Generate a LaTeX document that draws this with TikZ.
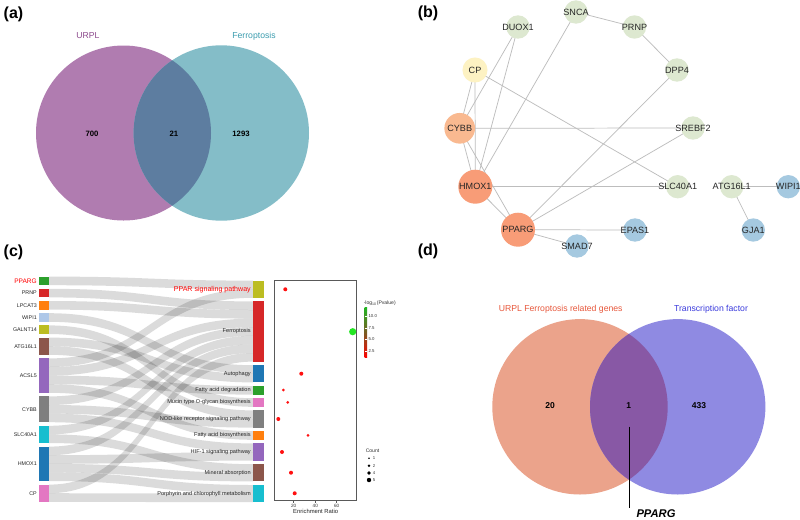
\documentclass[tikz,border=0pt]{standalone}
\usepackage{fontspec}
\setmainfont{Liberation Sans}
\pgfdeclarelayer{bg}
\pgfsetlayers{bg,main}
% colours
\definecolor{vaL}{HTML}{B07CB0}
\definecolor{vaR}{HTML}{84BDC8}
\definecolor{vaM}{HTML}{5D7DA0}
\definecolor{vaLt}{HTML}{8E4C8E}
\definecolor{vaRt}{HTML}{3C9DAF}
\definecolor{vdL}{HTML}{EBA38B}
\definecolor{vdR}{HTML}{8F8AE2}
\definecolor{vdM}{HTML}{8858A5}
\definecolor{vdLt}{HTML}{E8583C}
\definecolor{vdRt}{HTML}{3B3BDD}
\definecolor{ngreen}{HTML}{DDE8D0}
\definecolor{nblue}{HTML}{A5C9E0}
\definecolor{nyellow}{HTML}{FDF2C3}
\definecolor{norange}{HTML}{F9B990}
\definecolor{ndark}{HTML}{F89C77}
\definecolor{nedge}{HTML}{BDBDBD}
\definecolor{kgreen}{HTML}{2CA02C}
\definecolor{kred}{HTML}{D62728}
\definecolor{korange}{HTML}{FF7F0E}
\definecolor{klblue}{HTML}{AEC7E8}
\definecolor{kolive}{HTML}{BCBD22}
\definecolor{kbrown}{HTML}{8C564B}
\definecolor{kpurple}{HTML}{9467BD}
\definecolor{kgray}{HTML}{7F7F7F}
\definecolor{kcyan}{HTML}{17BECF}
\definecolor{kblue}{HTML}{1F77B4}
\definecolor{kpink}{HTML}{E377C2}
\definecolor{dotred}{HTML}{FF1010}
\definecolor{dotgreen}{HTML}{22E622}
\definecolor{cbgreen}{HTML}{22B422}
\definecolor{cbmid}{HTML}{7A5A22}
\newcommand\sflow[4]{\fill[flow] (49,#1) .. controls (151,#1) and (151,#3) .. (253,#3) -- (253,#4) .. controls (151,#4) and (151,#2) .. (49,#2) -- cycle;}
\begin{document}
\begin{tikzpicture}[x=0.75pt,y=-0.75pt,
  plabel/.style={font=\fontsize{12}{13}\selectfont\bfseries, inner sep=0pt},
  vtitle/.style={font=\fontsize{6.5}{7}\selectfont, inner sep=0pt},
  vnum/.style={font=\fontsize{5.8}{6}\selectfont\bfseries, inner sep=0pt},
  vnumd/.style={font=\fontsize{6.4}{7}\selectfont\bfseries, inner sep=0pt},
  nlab/.style={font=\fontsize{6.8}{7}\selectfont, inner sep=0pt, text=black!85},
  snode/.style={circle, inner sep=0pt, minimum size=17.5pt, fill=ngreen},
  edge/.style={draw=nedge, line width=0.55pt},
  flow/.style={fill=black, fill opacity=0.14},
  glab/.style={font=\fontsize{4}{4.5}\selectfont, inner sep=0pt, anchor=east, text=black!85},
  klab/.style={font=\fontsize{4.2}{4.5}\selectfont, inner sep=0pt, anchor=east, text=black!85},
  tiny/.style={font=\fontsize{3.5}{4}\selectfont, inner sep=0pt, text=black!80},
]
\useasboundingbox (0,0) rectangle (800,519);
\begin{pgfonlayer}{bg}
\fill[white] (0,0) rectangle (800,519);
\end{pgfonlayer}

% ---------------- panel labels
\node[plabel] (la) at (13.5,14.5) {(a)};
\node[plabel] (lb) at (428,13) {(b)};
\node[plabel] (lc) at (13.5,252) {(c)};
\node[plabel] (ld) at (428,251) {(d)};

% ---------------- (a) Venn
\fill[vaL] (123.5,133) circle[radius=87.5];
\fill[vaR] (221.3,133) circle[radius=87.7];
\begin{scope}
  \clip (123.5,133) circle[radius=87.5];
  \fill[vaM] (221.3,133) circle[radius=87.7];
\end{scope}
\node[vtitle, text=vaLt] (aurpl) at (88,36) {URPL};
\node[vtitle, text=vaRt] (aferr) at (254,36) {Ferroptosis};
\node[vnum] (a700) at (92,133.5) {700};
\node[vnum] (a21) at (174,133.5) {21};
\node[vnum] (a1293) at (241,133.5) {1293};

% ---------------- (b) network
\node[snode, label={[nlab]center:SNCA}] (SNCA) at (576,12) {};
\node[snode, label={[nlab]center:DUOX1}] (DUOX1) at (518,27) {};
\node[snode, label={[nlab]center:PRNP}] (PRNP) at (634.5,27) {};
\node[snode, label={[nlab]center:DPP4}] (DPP4) at (677,70) {};
\node[snode, fill=nyellow, minimum size=18.8pt, label={[nlab]center:CP}] (CP) at (475,70) {};
\node[snode, fill=norange, minimum size=23pt, label={[nlab]center:CYBB}] (CYBB) at (459.7,128.3) {};
\node[snode, label={[nlab]center:SREBF2}] (SREBF2) at (693,128) {};
\node[snode, fill=ndark, minimum size=25.5pt, label={[nlab]center:HMOX1}] (HMOX1) at (475.3,186.7) {};
\node[snode, label={[nlab]center:SLC40A1}] (SLC40A1) at (677.7,186.7) {};
\node[snode, label={[nlab]center:ATG16L1}] (ATG16L1) at (731.7,186.7) {};
\node[snode, fill=nblue, label={[nlab]center:WIPI1}] (WIPI1) at (788.3,186.7) {};
\node[snode, fill=ndark, minimum size=25.5pt, label={[nlab]center:PPARG}] (PPARG) at (518,229.7) {};
\node[snode, fill=nblue, label={[nlab]center:EPAS1}] (EPAS1) at (635,230) {};
\node[snode, fill=nblue, label={[nlab]center:GJA1}] (GJA1) at (753.3,230) {};
\node[snode, fill=nblue, label={[nlab]center:SMAD7}] (SMAD7) at (577,246) {};
\begin{pgfonlayer}{bg}
\draw[edge] (SNCA.center) -- (PRNP.center);
\draw[edge] (PRNP.center) -- (DPP4.center);
\draw[edge] (DUOX1.center) -- (CYBB.center);
\draw[edge] (DUOX1.center) -- (HMOX1.center);
\draw[edge] (CP.center) -- (CYBB.center);
\draw[edge] (CP.center) -- (HMOX1.center);
\draw[edge] (CP.center) -- (SLC40A1.center);
\draw[edge] (SNCA.center) -- (HMOX1.center);
\draw[edge] (CYBB.center) -- (SREBF2.center);
\draw[edge] (CYBB.center) -- (HMOX1.center);
\draw[edge] (CYBB.center) -- (PPARG.center);
\draw[edge] (HMOX1.center) -- (SLC40A1.center);
\draw[edge] (HMOX1.center) -- (PPARG.center);
\draw[edge] (DPP4.center) -- (PPARG.center);
\draw[edge] (SREBF2.center) -- (PPARG.center);
\draw[edge] (PPARG.center) -- (EPAS1.center);
\draw[edge] (PPARG.center) -- (SMAD7.center);
\draw[edge] (ATG16L1.center) -- (WIPI1.center);
\draw[edge] (ATG16L1.center) -- (GJA1.center);
\end{pgfonlayer}

% ---------------- (c) Sankey flows
\sflow{276.6}{285.2}{280.6}{289.2}
\sflow{288.8}{297.4}{301.4}{310.0}
\sflow{301.0}{309.6}{310.0}{318.6}
\sflow{313.2}{321.8}{365.2}{373.8}
\sflow{325.4}{334.0}{398.2}{406.8}
\sflow{337.6}{346.2}{373.8}{382.4}
\sflow{346.2}{354.8}{410.4}{419.0}
\sflow{358.4}{367.0}{289.2}{297.8}
\sflow{367.0}{375.6}{318.6}{327.2}
\sflow{375.6}{384.2}{386.0}{394.6}
\sflow{384.2}{392.8}{431.2}{439.8}
\sflow{396.4}{405.0}{327.2}{335.8}
\sflow{405.0}{413.6}{419.0}{427.6}
\sflow{413.6}{422.2}{443.4}{452.0}
\sflow{425.8}{434.4}{335.8}{344.4}
\sflow{434.4}{443.0}{464.2}{472.8}
\sflow{446.6}{455.2}{344.4}{353.0}
\sflow{455.2}{463.8}{452.0}{460.6}
\sflow{463.8}{472.4}{472.8}{481.4}
\sflow{472.4}{481.0}{485.0}{493.6}
\sflow{484.6}{493.2}{353.0}{361.6}
\sflow{493.2}{501.8}{493.6}{502.2}

% gene bars
\fill[kgreen]  (39,276.6) rectangle (49,285.2);
\fill[kred]    (39,288.8) rectangle (49,297.4);
\fill[korange] (39,301.0) rectangle (49,309.6);
\fill[klblue]  (39,313.2) rectangle (49,321.8);
\fill[kolive]  (39,325.4) rectangle (49,334.0);
\fill[kbrown]  (39,337.6) rectangle (49,354.8);
\fill[kpurple] (39,358.4) rectangle (49,392.8);
\fill[kgray]   (39,396.4) rectangle (49,422.2);
\fill[kcyan]   (39,425.8) rectangle (49,443.0);
\fill[kblue]   (39,446.6) rectangle (49,481.0);
\fill[kpink]   (39,484.6) rectangle (49,501.8);
\node[glab, text=red, font=\fontsize{4.9}{5}\selectfont] (gPPARG) at (37,280.9) {PPARG};
\node[glab] (gPRNP) at (37,293.1) {PRNP};
\node[glab] (gLPCAT3) at (37,305.3) {LPCAT3};
\node[glab] (gWIPI1) at (37,317.5) {WIPI1};
\node[glab] (gGALNT14) at (37,329.7) {GALNT14};
\node[glab] (gATG16L1) at (37,346.2) {ATG16L1};
\node[glab] (gACSL5) at (37,375.6) {ACSL5};
\node[glab] (gCYBB) at (37,409.3) {CYBB};
\node[glab] (gSLC40A1) at (37,434.4) {SLC40A1};
\node[glab] (gHMOX1) at (37,463.8) {HMOX1};
\node[glab] (gCP) at (37,493.2) {CP};

% pathway bars
\fill[kolive]  (253,280.6) rectangle (264,297.8);
\fill[kred]    (253,301.4) rectangle (264,361.6);
\fill[kblue]   (253,365.2) rectangle (264,382.4);
\fill[kgreen]  (253,386.0) rectangle (264,394.6);
\fill[kpink]   (253,398.2) rectangle (264,406.8);
\fill[kgray]   (253,410.4) rectangle (264,427.6);
\fill[korange] (253,431.2) rectangle (264,439.8);
\fill[kpurple] (253,443.4) rectangle (264,460.6);
\fill[kbrown]  (253,464.2) rectangle (264,481.4);
\fill[kcyan]   (253,485.0) rectangle (264,502.2);
\node[klab, text=red, font=\fontsize{5.3}{5.5}\selectfont] (pPPAR) at (251,289.2) {PPAR signaling pathway};
\node[klab] (pFerro) at (251,331.5) {Ferroptosis};
\node[klab] (pAuto) at (251,373.8) {Autophagy};
\node[klab] (pFAdeg) at (251,390.3) {Fatty acid degradation};
\node[klab] (pMucin) at (251,402.5) {Mucin type O-glycan biosynthesis};
\node[klab] (pNOD) at (251,419.0) {NOD-like receptor signaling pathway};
\node[klab] (pFAbio) at (251,435.5) {Fatty acid biosynthesis};
\node[klab] (pHIF) at (251,452.0) {HIF-1 signaling pathway};
\node[klab] (pMin) at (251,472.8) {Mineral absorption};
\node[klab] (pPorph) at (251,493.6) {Porphyrin and chlorophyll metabolism};

% dot plot
\draw[black!65, line width=0.6pt] (274.3,280) rectangle (356.3,500.7);
\foreach \tx/\tl in {293.7/20, 315.3/40, 336.7/60}{
  \draw[black!65, line width=0.5pt] (\tx,500.7) -- (\tx,503);
  \node[tiny] at (\tx,506) {\tl};
}
\node[font=\fontsize{4.4}{5}\selectfont, inner sep=0pt, text=black!85] (xlab) at (315.7,511.7) {Enrichment Ratio};
\fill[dotred] (285.3,289.3) circle[radius=2];
\fill[dotgreen] (352.7,331.7) circle[radius=3.6];
\fill[dotred] (301.3,373.7) circle[radius=2];
\fill[dotred] (283.3,390) circle[radius=1.5];
\fill[dotred] (287.7,402.3) circle[radius=1.5];
\fill[dotred] (278.3,419) circle[radius=2];
\fill[dotred] (308,435.3) circle[radius=1.5];
\fill[dotred] (282,452) circle[radius=2];
\fill[dotred] (291,472.7) circle[radius=2];
\fill[dotred] (294.7,493.3) circle[radius=2];

% colour legend
\node[tiny, anchor=west, font=\fontsize{3.8}{4}\selectfont] (cbt) at (363.5,303.3) {-log\textsubscript{10}(Pvalue)};
\shade[top color=cbgreen, bottom color=red, middle color=cbmid] (364.7,307.7) rectangle (367,357.7);
\foreach \ty/\tl in {315.7/10.0, 328/7.5, 339.3/5.0, 350.7/2.5}{
  \draw[white, line width=0.3pt] (364.7,\ty) -- (365.5,\ty);
  \draw[white, line width=0.3pt] (366.2,\ty) -- (367,\ty);
  \node[tiny, anchor=west, font=\fontsize{3.2}{4}\selectfont] at (368.3,\ty) {\tl};
}
% count legend
\node[tiny, anchor=west, font=\fontsize{3.8}{4}\selectfont] (cnt) at (365.5,450.3) {Count};
\foreach \ty/\tr/\tl in {458.3/0.9/1, 465.7/1.4/2, 473/1.9/4, 480/2.2/5}{
  \fill[black] (369,\ty) circle[radius=\tr];
  \node[tiny, anchor=west, font=\fontsize{3.2}{4}\selectfont] at (372.5,\ty) {\tl};
}

% ---------------- (d) Venn
\fill[vdL] (580,406.8) circle[radius=87.7];
\fill[vdR] (677.7,406.8) circle[radius=87.7];
\begin{scope}
  \clip (580,406.8) circle[radius=87.7];
  \fill[vdM] (677.7,406.8) circle[radius=87.7];
\end{scope}
\node[vtitle, text=vdLt] (durpl) at (560.7,309) {URPL Ferroptosis related genes};
\node[vtitle, text=vdRt] (dtf) at (711,309) {Transcription factor};
\node[vnumd] (d20) at (550,406) {20};
\node[vnumd] (d1) at (628.7,406) {1};
\node[vnumd] (d433) at (699,406) {433};
\coordinate (ptop) at (629.3,426.7);
\coordinate (pbot) at (629.3,508.3);
\draw[black, line width=1.2pt] (ptop) -- (pbot);
\node[font=\fontsize{8.4}{9}\selectfont\bfseries\itshape, inner sep=0pt] (dpparg) at (656,514) {PPARG};
\end{tikzpicture}
\end{document}
